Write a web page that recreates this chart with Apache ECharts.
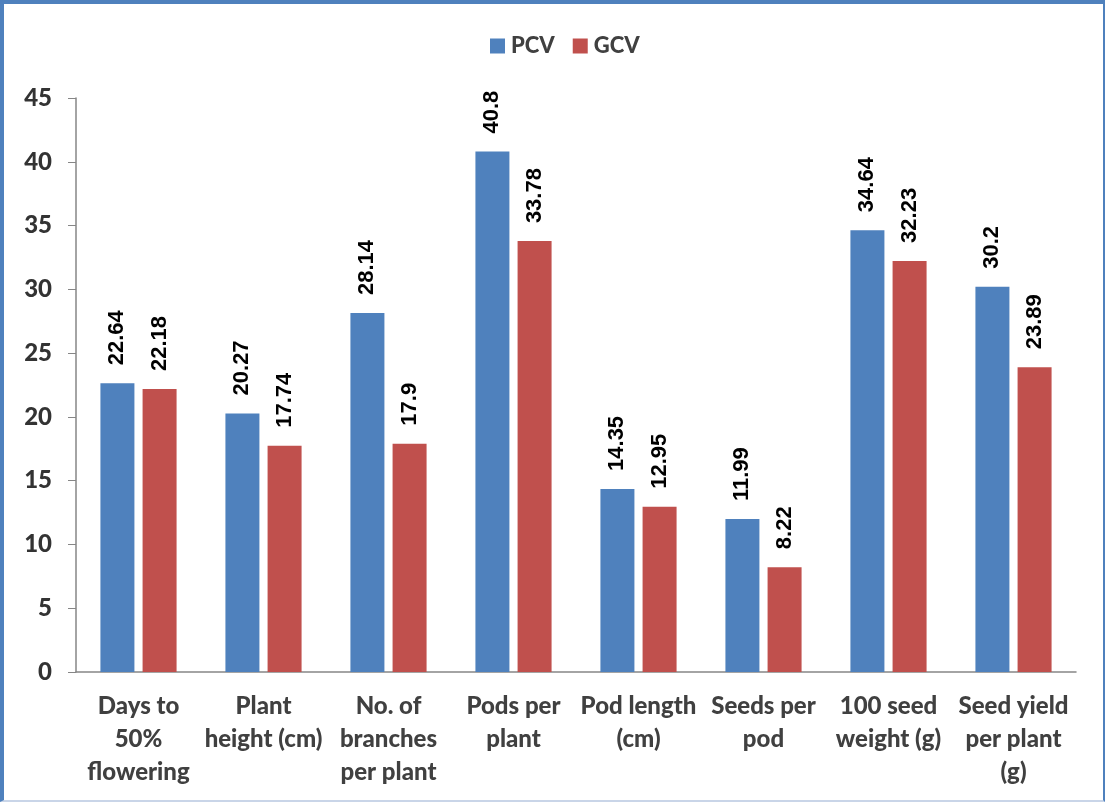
<!DOCTYPE html>
<html><head><meta charset="utf-8">
<script src="https://cdn.jsdelivr.net/npm/echarts@6/dist/echarts.min.js"></script>
<style>
html,body{margin:0;padding:0;background:#fff;}
#frame{position:absolute;left:0;top:0;width:1105px;height:802px;box-sizing:border-box;border-left:4px solid #4f81bd;border-top:4px solid #4f81bd;border-right:2px solid #4f81bd;border-bottom:2px solid #c9d5e8;}
#chart{position:absolute;left:0;top:0;width:1105px;height:802px;}
</style></head>
<body><div id="frame"></div><div id="chart"></div>
<script>
const categories = ['Days to\n50%\nflowering','Plant\nheight (cm)','No. of\nbranches\nper plant','Pods per\nplant','Pod length\n(cm)','Seeds per\npod','100 seed\nweight (g)','Seed yield\nper plant\n(g)'];
const pcv = [22.64, 20.27, 28.14, 40.8, 14.35, 11.99, 34.64, 30.2];
const gcv = [22.18, 17.74, 17.9, 33.78, 12.95, 8.22, 32.23, 23.89];
const seriesNames = ['PCV','GCV'];
const FONT = 'Lato';
const chart = echarts.init(document.getElementById('chart'));
const lbl = {show:true, position:'top', rotate:90, align:'left', verticalAlign:'middle', distance:18, color:'#000', fontFamily:'Liberation Sans', fontWeight:'bold', fontSize:22};
chart.setOption({
  animation:false,
  textStyle:{fontFamily:FONT},
  legend:{top:30, left:485, itemWidth:15, itemHeight:15, itemGap:18, icon:'rect',
    textStyle:{fontFamily:FONT, fontWeight:900, fontSize:22, color:'#404040', padding:[0,0,0,1]}, data:seriesNames},
  grid:{left:76, right:29, top:98, bottom:130, containLabel:false},
  xAxis:{type:'category', data:categories,
    axisLine:{lineStyle:{color:'#868686', width:1.5}}, axisTick:{show:false},
    axisLabel:{interval:0, fontFamily:FONT, fontWeight:900, fontSize:24, color:'#404040', lineHeight:33, margin:18}},
  yAxis:{type:'value', min:0, max:45, interval:5,
    axisLine:{show:true, lineStyle:{color:'#868686', width:1.5}},
    axisTick:{show:true, length:8, lineStyle:{color:'#868686'}},
    splitLine:{show:false},
    axisLabel:{fontFamily:FONT, fontWeight:900, fontSize:24, color:'#333', margin:24}},
  series:[
    {name:seriesNames[0], type:'bar', data:pcv, barWidth:34, barGap:'24%', itemStyle:{color:'#4f81bd'}, label:lbl},
    {name:seriesNames[1], type:'bar', data:gcv, barWidth:34, barGap:'24%', itemStyle:{color:'#c0504d'}, label:lbl}
  ]
});
</script></body></html>
